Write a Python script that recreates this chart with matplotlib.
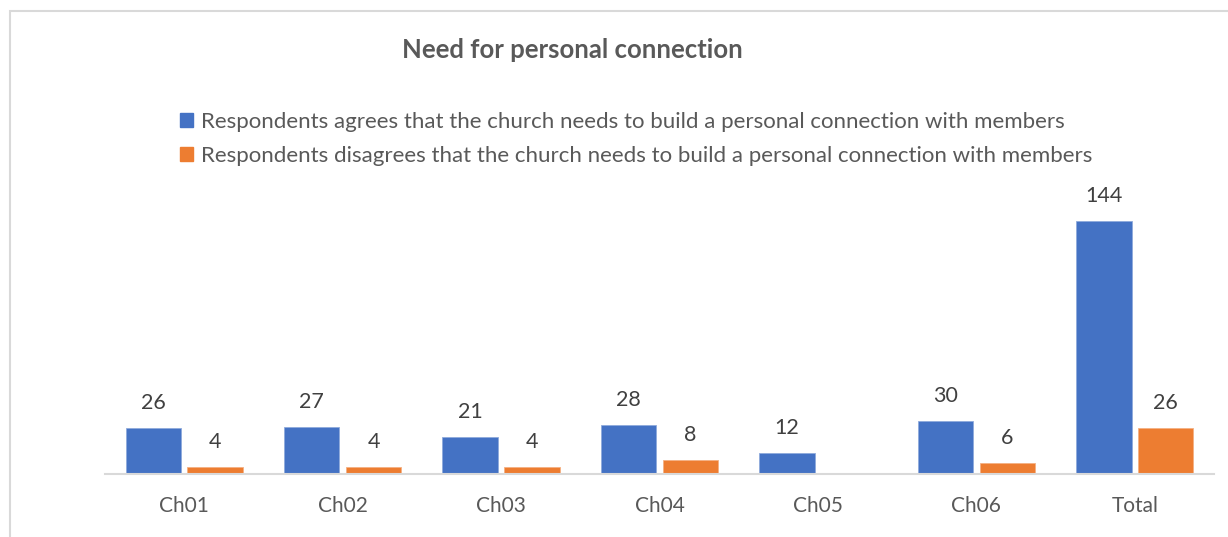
import numpy as np
import matplotlib
matplotlib.use("Agg")
import matplotlib.pyplot as plt
from matplotlib.patches import Patch, Rectangle

categories = ["Ch01", "Ch02", "Ch03", "Ch04", "Ch05", "Ch06", "Total"]
agree = [26, 27, 21, 28, 12, 30, 144]
disagree = [4, 4, 4, 8, None, 6, 26]

agree_label = "Respondents agrees that the church needs to build a personal connection with members"
disagree_label = "Respondents disagrees that the church needs to build a personal connection with members"

BLUE = "#4472C4"
ORANGE = "#ED7D31"
plt.rcParams["font.family"] = ["Lato", "DejaVu Sans"]

W, H = 1228, 537
fig = plt.figure(figsize=(W / 100, H / 100), dpi=100)

# chart frame
fig.patches.append(Rectangle((10 / W, -0.1), 1.2, 1 - 11 / H + 0.1, transform=fig.transFigure,
                             fill=False, edgecolor="#D9D9D9", linewidth=1.5))

ax = fig.add_axes([105 / W, 63 / H, 1109 / W, 281 / H])
x = np.arange(len(categories))
bw = 0.35
off = 0.195

d_vals = np.array([np.nan if v is None else v for v in disagree], dtype=float)
ax.bar(x - off, agree, bw, color=BLUE, edgecolor="#8FAADC", linewidth=0.6)
ax.bar(x + off, d_vals, bw, color=ORANGE, edgecolor="#F4B183", linewidth=0.6)

for xi, v in zip(x, agree):
    ax.annotate(str(v), (xi - off, v), xytext=(0, 18), textcoords="offset points",
                ha="center", va="center", fontsize=15.5, color="#404040")
for xi, v in zip(x, disagree):
    if v is None:
        continue
    ax.annotate(str(v), (xi + off, v), xytext=(0, 18), textcoords="offset points",
                ha="center", va="center", fontsize=15.5, color="#404040")

ax.set_xlim(-0.5, len(categories) - 0.5)
ax.set_ylim(0, 160)
ax.set_yticks([])
ax.set_xticks(x)
ax.set_xticklabels(categories, fontsize=15, color="#595959")
ax.tick_params(axis="x", length=0, pad=16)
for s in ["top", "right", "left"]:
    ax.spines[s].set_visible(False)
ax.spines["bottom"].set_color("#D9D9D9")
ax.spines["bottom"].set_linewidth(1.5)
ax.patch.set_visible(False)

fig.text(572 / W, 1 - 50 / H, "Need for personal connection", ha="center", va="center",
         fontsize=18.5, fontweight="bold", color="#595959")

handles = [Patch(color=BLUE, label=agree_label), Patch(color=ORANGE, label=disagree_label)]
fig.legend(handles=handles, loc="upper left", bbox_to_anchor=(160 / W, 1 - 92 / H),
           frameon=False, fontsize=16, labelcolor="#595959",
           handlelength=0.6, handleheight=0.6, handletextpad=0.35, labelspacing=0.62)

fig.savefig("out.png", dpi=100)
